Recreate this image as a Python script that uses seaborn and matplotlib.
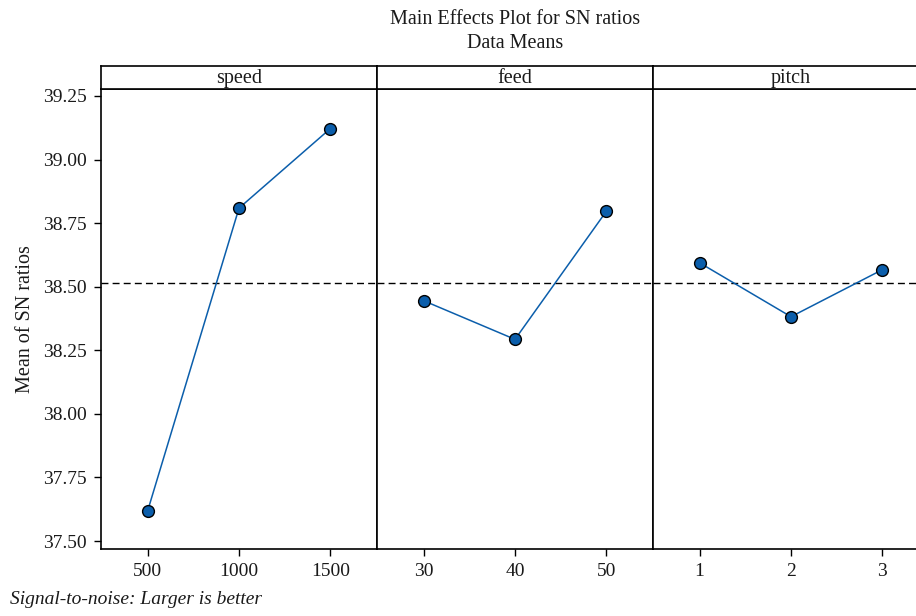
import numpy as np
import pandas as pd
import seaborn as sns
import matplotlib.pyplot as plt

# factor levels and mean SN ratios
factors = ["speed", "feed", "pitch"]
speed_levels = ["500", "1000", "1500"]
speed_sn = [37.618, 38.809, 39.122]
feed_levels = ["30", "40", "50"]
feed_sn = [38.445, 38.293, 38.797]
pitch_levels = ["1", "2", "3"]
pitch_sn = [38.594, 38.382, 38.567]

y_ticks = [37.50, 37.75, 38.00, 38.25, 38.50, 38.75, 39.00, 39.25]

levels = [speed_levels, feed_levels, pitch_levels]
values = [speed_sn, feed_sn, pitch_sn]
grand_mean = np.mean(speed_sn + feed_sn + pitch_sn)

sns.set_theme(style="ticks")
plt.rcParams['font.family'] = ['Liberation Serif', 'DejaVu Serif']

W, H = 916, 616
fig = plt.figure(figsize=(W / 100, H / 100), dpi=100)

blue = "#0b5eab"
txt = "#1a1a1a"
panel_w = 276
for i, name in enumerate(factors):
    left = 101 + i * panel_w
    ax = fig.add_axes([left / W, 67 / H, panel_w / W, 460 / H])
    strip = fig.add_axes([left / W, (H - 89) / H, panel_w / W, 23 / H])

    df = pd.DataFrame({"level": levels[i], "sn": values[i]})
    ax.axhline(grand_mean, ls="--", color="black", lw=1, dashes=(5, 3), zorder=1)
    sns.pointplot(data=df, x="level", y="sn", ax=ax, color=blue, markers="o",
                  linestyles="-", errorbar=None, markeredgecolor="black",
                  markeredgewidth=1.0, markersize=8.5, linewidth=1.1)

    ax.set_xlim(-0.51, 2.51)
    ax.set_ylim(37.4686, 39.2775)
    ax.set_xlabel("")
    ax.set_yticks(y_ticks)
    ax.set_yticklabels([f"{v:.2f}" for v in y_ticks])
    ax.tick_params(direction="out", length=5, width=1, color="black",
                   labelsize=14, labelcolor=txt, pad=5)
    for sp in ax.spines.values():
        sp.set_visible(True)
        sp.set_color("black")
        sp.set_linewidth(1.2)
    if i == 0:
        ax.set_ylabel("Mean of SN ratios", fontsize=14.5, color=txt, labelpad=6)
    else:
        ax.set_ylabel("")
        ax.tick_params(left=False, labelleft=False)

    strip.set_xticks([])
    strip.set_yticks([])
    for sp in strip.spines.values():
        sp.set_visible(True)
        sp.set_color("black")
        sp.set_linewidth(1.2)
    strip.text(0.5, 0.45, name, ha="center", va="center", fontsize=14.5,
               color=txt, transform=strip.transAxes)

fig.text(515 / W, 1 - 20 / H, "Main Effects Plot for SN ratios", ha="center",
         va="center", fontsize=14.5, color=txt)
fig.text(515 / W, 1 - 44 / H, "Data Means", ha="center", va="center",
         fontsize=14.5, color=txt)
fig.text(10 / W, 1 - 600 / H, "Signal-to-noise: Larger is better", ha="left",
         va="center", fontsize=14, style="italic", color=txt)

fig.savefig("out.png", dpi=100)
